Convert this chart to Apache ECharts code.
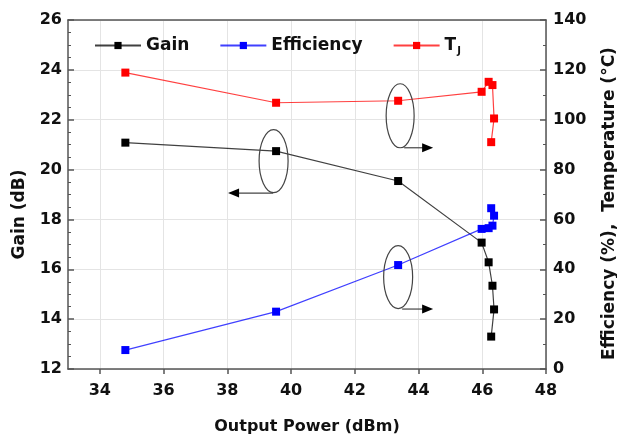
<!DOCTYPE html>
<html>
<head>
<meta charset="utf-8">
<script src="https://cdn.jsdelivr.net/npm/echarts@6/dist/echarts.min.js"></script>
<style>
  html, body { margin: 0; padding: 0; background: #fff; }
  #chart { width: 617px; height: 441px; }
</style>
</head>
<body>
<div id="chart"></div>
<script>
// values
const power = [34.8, 39.53, 43.36, 45.98, 46.2, 46.32, 46.37, 46.28];
const gain = [21.08, 20.74, 19.54, 17.07, 16.28, 15.34, 14.39, 13.3];
const efficiency = [7.6, 23.0, 41.7, 56.2, 56.5, 57.5, 61.5, 64.5];
const tj = [118.9, 106.8, 107.6, 111.2, 115.2, 113.9, 100.5, 91.0];
const xTicks = [34, 36, 38, 40, 42, 44, 46, 48];
const seriesNames = ["Gain", "Efficiency", "TJ"];

const FONT = "DejaVu Sans";
const AXIS_COLOR = "#555";
const pairs = (ys) => power.map((x, i) => [x, ys[i]]);

const chart = echarts.init(document.getElementById("chart"));

const lineSeries = (name, ys, color, yIdx) => ({
  name: name,
  type: "line",
  yAxisIndex: yIdx,
  data: pairs(ys),
  symbol: "rect",
  symbolSize: 8,
  itemStyle: { color: color },
  lineStyle: { color: color, width: 1.2, opacity: 0.75 },
  animation: false,
});

const option = {
  backgroundColor: "#fff",
  grid: { left: 68, right: 71, top: 20, bottom: 72, outerBoundsMode: "none" },
  legend: {
    data: seriesNames,
    left: 89,
    top: 32,
    itemWidth: 46,
    itemHeight: 9,
    itemGap: 30,
    formatter: (name) => name === "TJ" ? "{t|T}{s|J}" : "{n|" + name + "}",
    textStyle: {
      fontFamily: FONT,
      fontWeight: "bold",
      fontSize: 17,
      color: "#111",
      rich: {
        n: { fontFamily: FONT, fontWeight: "bold", fontSize: 17, color: "#111" },
        t: { fontFamily: FONT, fontWeight: "bold", fontSize: 17, color: "#111" },
        s: { fontFamily: FONT, fontWeight: "bold", fontSize: 10, color: "#111", padding: [12, 0, 0, 1] },
      },
    },
  },
  xAxis: [
    {
      type: "value",
      min: 33,
      max: 48,
      name: "Output Power (dBm)",
      nameLocation: "middle",
      nameGap: 50,
      nameTextStyle: { fontFamily: FONT, fontWeight: "bold", fontSize: 16, color: "#111" },
      axisLine: { show: true, lineStyle: { color: AXIS_COLOR, width: 1.5 } },
      axisTick: { show: true, customValues: xTicks, length: 5, lineStyle: { color: AXIS_COLOR, width: 1.5 } },
      axisLabel: { customValues: xTicks, margin: 14, fontFamily: FONT, fontWeight: "bold", fontSize: 16, color: "#111" },
      splitLine: { show: true, lineStyle: { color: "#e4e4e4", width: 1 } },
    },
    {
      type: "value",
      position: "top",
      min: 33,
      max: 48,
      axisLine: { show: true, lineStyle: { color: AXIS_COLOR, width: 1.5 } },
      axisTick: { show: false },
      axisLabel: { show: false },
      splitLine: { show: false },
    },
  ],
  yAxis: [
    {
      type: "value",
      min: 12,
      max: 26,
      interval: 2,
      name: "Gain (dB)",
      nameLocation: "middle",
      nameGap: 40,
      nameTextStyle: { fontFamily: FONT, fontWeight: "bold", fontSize: 17, color: "#111", padding: [0, 40, 0, 0] },
      axisLine: { show: true, lineStyle: { color: AXIS_COLOR, width: 1.5 } },
      axisTick: { show: true, inside: true, length: 6, lineStyle: { color: AXIS_COLOR, width: 1.5 } },
      minorTick: { show: true, splitNumber: 4, length: 3, lineStyle: { color: AXIS_COLOR, width: 1 } },
      axisLabel: { margin: 6, fontFamily: FONT, fontWeight: "bold", fontSize: 16, color: "#111" },
      splitLine: { show: true, lineStyle: { color: "#e4e4e4", width: 1 } },
    },
    {
      type: "value",
      min: 0,
      max: 140,
      interval: 20,
      position: "right",
      name: "Efficiency (%),  Temperature (°C)",
      nameLocation: "middle",
      nameGap: 55,
      nameTextStyle: { fontFamily: FONT, fontWeight: "bold", fontSize: 17, color: "#111", padding: [0, 18, 0, 0] },
      axisLine: { show: true, lineStyle: { color: AXIS_COLOR, width: 1.5 } },
      axisTick: { show: true, inside: true, length: 6, lineStyle: { color: AXIS_COLOR, width: 1.5 } },
      minorTick: { show: true, splitNumber: 2, length: 3, lineStyle: { color: AXIS_COLOR, width: 1 } },
      axisLabel: { margin: 7, fontFamily: FONT, fontWeight: "bold", fontSize: 16, color: "#111" },
      splitLine: { show: false },
    },
  ],
  series: [
    lineSeries("Gain", gain, "#000000", 0),
    lineSeries("Efficiency", efficiency, "#0000ff", 1),
    lineSeries("TJ", tj, "#ff0000", 1),
  ],
};

chart.setOption(option);

// ellipse + arrow callouts, anchored on a data point of each series
const callout = (pt, dx, dy, rx, ry, arrowFrom, arrowTo, arrowY) => {
  const stroke = { stroke: "#444", lineWidth: 1.2, fill: "none" };
  const dir = arrowTo > arrowFrom ? 1 : -1;
  const tipX = pt[0] + arrowTo;
  const y = pt[1] + arrowY;
  return [
    { type: "ellipse", shape: { cx: pt[0] + dx, cy: pt[1] + dy, rx: rx, ry: ry }, style: stroke, z: 10 },
    { type: "line", shape: { x1: pt[0] + arrowFrom, y1: y, x2: tipX - dir * 8, y2: y }, style: { stroke: "#444", lineWidth: 1.2 }, z: 10 },
    { type: "polygon", shape: { points: [[tipX, y], [tipX - dir * 11, y - 4.5], [tipX - dir * 11, y + 4.5]] }, style: { fill: "#000" }, z: 10 },
  ];
};

const pGain = chart.convertToPixel({ xAxisIndex: 0, yAxisIndex: 0 }, [power[1], gain[1]]);
const pTj = chart.convertToPixel({ xAxisIndex: 0, yAxisIndex: 1 }, [power[2], tj[2]]);
const pEff = chart.convertToPixel({ xAxisIndex: 0, yAxisIndex: 1 }, [power[2], efficiency[2]]);

chart.setOption({
  graphic: [].concat(
    callout(pGain, -2.5, 10, 14.5, 31.5, -3, -48, 42),
    callout(pTj, 2, 15, 14, 32, 6, 35, 47),
    callout(pEff, 0, 12, 14.5, 31.5, 4, 35, 44)
  ),
});
</script>
</body>
</html>
